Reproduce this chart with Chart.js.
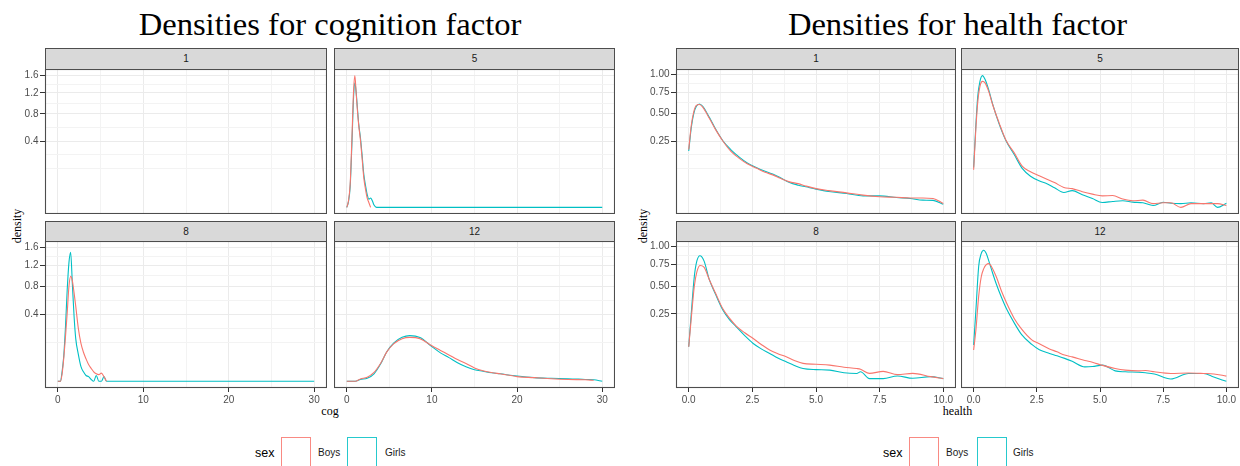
<!DOCTYPE html>
<html><head><meta charset="utf-8">
<script src="https://cdn.jsdelivr.net/npm/chart.js@4.4.1/dist/chart.umd.min.js"></script>
<style>
html,body{margin:0;padding:0;background:#fff}
body{width:1240px;height:466px;position:relative;overflow:hidden;font-family:"Liberation Sans",Arial,sans-serif}
.abs{position:absolute}
.title{font-family:"Liberation Serif","Times New Roman",serif;font-size:32.6px;line-height:32.6px;color:#000;text-align:center;white-space:nowrap;width:640px}
.strip{background:#D9D9D9;border:1px solid #4d4d4d;box-sizing:border-box;text-align:center;font-size:10px;color:#1A1A1A}
.axt{font-family:"Liberation Serif","Times New Roman",serif;font-size:12px;line-height:12px;color:#000;white-space:nowrap;text-align:center;width:80px}
.sex{font-size:12.5px;line-height:14px;color:#000}
.lab{font-size:10px;line-height:12px;color:#1a1a1a}
canvas{position:absolute}
</style>
</head><body>
<script>
// ---------------- data ----------------
const ages = ['1', '5', '8', '12'];
const sexes = ['Boys', 'Girls'];
const sexColors = ['#F8766D', '#00BFC4'];

const cogXBreaks = [0, 10, 20, 30];
const cogXLabels = ['0', '10', '20', '30'];
const cogYBreaks = [0.4, 0.8, 1.2, 1.6];
const cogYLabels = ['0.4', '0.8', '1.2', '1.6'];
const cogRange = [0, 30];

const healthXBreaks = [0, 2.5, 5, 7.5, 10];
const healthXLabels = ['0.0', '2.5', '5.0', '7.5', '10.0'];
const healthYBreaks = [0.25, 0.5, 0.75, 1.0];
const healthYLabels = ['0.25', '0.50', '0.75', '1.00'];
const healthRange = [0, 10];

// cognition, age 1: no observations
const cogX1 = [];
const cogBoys1 = [];
const cogGirls1 = [];

// cognition, age 5 (null = outside the group's data range)
const cogX5 = [0, 0.2, 0.4, 0.6, 0.8, 0.95, 1.1, 1.25, 1.4, 1.6, 1.8, 2.0, 2.2, 2.4, 2.6, 2.8, 3.0, 3.2, 3.5, 5, 10, 15, 20, 25, 30];
const cogBoys5 = [0, 0.004, 0.05, 0.42, 1.25, 1.59, 1.2, 0.86, 0.62, 0.42, 0.22, 0.08, 0.03, 0.008, 0.002, 0, null, null, null, null, null, null, null, null, null];
const cogGirls5 = [0, 0.003, 0.04, 0.36, 1.12, 1.42, 1.22, 0.9, 0.64, 0.45, 0.25, 0.1, 0.045, 0.015, 0.006, 0.008, 0.004, 0.0005, 0, 0, 0, 0, 0, 0, 0];

// cognition, age 8
const cogX8 = [0, 0.3, 0.5, 0.7, 0.9, 1.1, 1.3, 1.5, 1.7, 1.9, 2.1, 2.4, 2.7, 3.0, 3.3, 3.6, 3.9, 4.2, 4.5, 4.8, 5.1, 5.4, 5.7, 6, 10, 20, 30];
const cogBoys8 = [0, 0, 0.005, 0.05, 0.18, 0.42, 0.8, 0.98, 0.9, 0.7, 0.5, 0.25, 0.13, 0.075, 0.045, 0.025, 0.015, 0.008, 0.005, 0.004, 0.006, 0.002, 0, null, null, null, null];
const cogGirls8 = [0, 0, 0.008, 0.06, 0.27, 0.75, 1.25, 1.48, 0.85, 0.38, 0.16, 0.065, 0.02, 0.008, 0.003, 0.002, 0.0003, 0, 0.003, 0, 0, 0.002, 0, 0, 0, 0, 0];

// cognition, age 12
const cogX12 = [0, 1, 1.6, 2.4, 3.2, 4, 4.7, 5.5, 6.5, 7.4, 8.6, 10, 11, 12, 13, 14, 15, 16, 17, 18, 20, 22, 24, 26, 28, 29, 30];
const cogBoys12 = [0, 0, 0.0005, 0.0015, 0.007, 0.03, 0.077, 0.125, 0.162, 0.172, 0.162, 0.112, 0.085, 0.062, 0.042, 0.028, 0.016, 0.01, 0.007, 0.005, 0.002, 0.0012, 0.0006, 0.0003, 0.0002, 0.0001, null];
const cogGirls12 = [0, 0, 0.0003, 0.0008, 0.005, 0.028, 0.078, 0.13, 0.172, 0.186, 0.17, 0.107, 0.072, 0.05, 0.031, 0.019, 0.012, 0.009, 0.0065, 0.005, 0.0025, 0.0012, 0.0008, 0.0006, 0.0003, 0.0002, 0];

// health, age 1
const healthX1 = [0, 0.1, 0.2, 0.3, 0.42, 0.55, 0.81, 1.05, 1.34, 1.65, 2.0, 2.3, 2.65, 3.0, 3.3, 3.6, 3.96, 4.3, 4.6, 5.0, 5.5, 6.2, 6.85, 7.5, 8.16, 8.7, 9.2, 9.6, 10];
const healthBoys1 = [0.19, 0.38, 0.52, 0.59, 0.6, 0.57, 0.45, 0.345, 0.25, 0.18, 0.135, 0.108, 0.088, 0.07, 0.06, 0.048, 0.037, 0.032, 0.026, 0.02, 0.016, 0.012, 0.0085, 0.0065, 0.0058, 0.005, 0.005, 0.0045, 0.0009];
const healthGirls1 = [0.18, 0.36, 0.5, 0.58, 0.607, 0.58, 0.46, 0.35, 0.252, 0.19, 0.142, 0.112, 0.09, 0.074, 0.063, 0.05, 0.035, 0.028, 0.024, 0.019, 0.0144, 0.011, 0.0076, 0.0076, 0.0056, 0.0045, 0.003, 0.0028, 0.0006];

// health, age 5
const healthX5 = [0, 0.09, 0.16, 0.25, 0.35, 0.45, 0.6, 0.75, 1.0, 1.28, 1.6, 1.93, 2.25, 2.59, 2.9, 3.2, 3.57, 3.9, 4.3, 4.7, 5.09, 5.5, 5.9, 6.3, 6.7, 7.1, 7.5, 7.8, 8.2, 8.6, 9.1, 9.4, 9.65, 10];
const healthBoys5 = [0.08, 0.36, 0.62, 0.83, 0.9, 0.88, 0.76, 0.6, 0.41, 0.255, 0.17, 0.095, 0.072, 0.057, 0.045, 0.035, 0.0225, 0.02, 0.014, 0.01, 0.0076, 0.008, 0.004, 0.0025, 0.003, 0.0008, 0.0012, 0.0012, 0, 0.0008, 0.0008, 0.0008, 0.0008, 0.0002];
const healthGirls5 = [0.09, 0.39, 0.69, 0.9, 0.985, 0.93, 0.78, 0.607, 0.4, 0.252, 0.16, 0.085, 0.055, 0.04, 0.032, 0.022, 0.0126, 0.016, 0.009, 0.0045, 0.0014, 0.002, 0.0025, 0.0016, 0.0012, 0.0002, 0.0015, 0.001, 0.0008, 0.0012, 0.0008, 0.0012, 0, 0.001];

// health, age 8
const healthX8 = [0, 0.09, 0.22, 0.32, 0.44, 0.6, 0.81, 1.05, 1.34, 1.6, 1.86, 2.2, 2.52, 2.85, 3.18, 3.5, 3.83, 4.15, 4.49, 5.0, 5.54, 6.1, 6.6, 6.75, 7.1, 7.64, 8.2, 8.8, 9.5, 10];
const healthBoys8 = [0.066, 0.2, 0.5, 0.66, 0.74, 0.72, 0.57, 0.43, 0.29, 0.22, 0.17, 0.13, 0.102, 0.075, 0.054, 0.042, 0.033, 0.024, 0.0177, 0.016, 0.0144, 0.011, 0.009, 0.008, 0.0035, 0.0055, 0.0025, 0.0035, 0.0012, 0.0004];
const healthGirls8 = [0.066, 0.23, 0.607, 0.8, 0.87, 0.8, 0.57, 0.42, 0.28, 0.21, 0.165, 0.115, 0.08, 0.058, 0.043, 0.03, 0.021, 0.014, 0.009, 0.0075, 0.0069, 0.004, 0.0034, 0.005, 0.0004, 0.0004, 0.0016, 0.0005, 0.0012, 0.0004];

// health, age 12
const healthX12 = [0, 0.09, 0.2, 0.3, 0.4, 0.5, 0.6, 0.75, 0.9, 1.1, 1.3, 1.6, 1.9, 2.3, 2.6, 3.0, 3.3, 3.6, 3.9, 4.4, 4.7, 5.1, 5.6, 6.0, 6.5, 6.8, 7.15, 7.8, 8.5, 9.1, 9.5, 10];
const healthBoys12 = [0.054, 0.145, 0.4, 0.6, 0.7, 0.75, 0.764, 0.7, 0.6, 0.45, 0.34, 0.22, 0.15, 0.095, 0.078, 0.058, 0.048, 0.038, 0.033, 0.024, 0.02, 0.014, 0.009, 0.0069, 0.006, 0.0065, 0.005, 0.0034, 0.0038, 0.0034, 0.003, 0.0015];
const healthGirls12 = [0.073, 0.28, 0.73, 0.9, 0.947, 0.9, 0.8, 0.647, 0.52, 0.39, 0.29, 0.19, 0.12, 0.075, 0.055, 0.043, 0.036, 0.029, 0.022, 0.0115, 0.012, 0.0144, 0.006, 0.005, 0.0045, 0.004, 0.003, 0.0003, 0.0034, 0.0034, 0.001, 0];

// ---------------- layout (positions only) ----------------
const rowsGeo = [{strip: 48, top: 69, bottom: 214}, {strip: 221, top: 241, bottom: 388}];
const figures = [
  {title: 'Densities for cognition factor', xTitle: 'cog', cols: [[45, 327], [334, 615]], yW: 45,
   xs: [cogX1, cogX5, cogX8, cogX12], boys: [cogBoys1, cogBoys5, cogBoys8, cogBoys12], girls: [cogGirls1, cogGirls5, cogGirls8, cogGirls12],
   xB: cogXBreaks, xL: cogXLabels, yB: cogYBreaks, yL: cogYLabels, range: cogRange,
   titleY: 8, densX: 16.5, legend: {sex: 255, k1: 280, b: 318, k2: 346, g: 385}},
  {title: 'Densities for health factor', xTitle: 'health', cols: [[676, 956], [961, 1239]], yW: 46,
   xs: [healthX1, healthX5, healthX8, healthX12], boys: [healthBoys1, healthBoys5, healthBoys8, healthBoys12], girls: [healthGirls1, healthGirls5, healthGirls8, healthGirls12],
   xB: healthXBreaks, xL: healthXLabels, yB: healthYBreaks, yL: healthYLabels, range: healthRange,
   titleY: 8, densX: 643, legend: {sex: 883, k1: 908, b: 946, k2: 976, g: 1013}}
];
const X_AXIS_H = 26;

function minorBreaks(b, lim) {
  const bd = b[1] - b[0];
  const bb = b.slice();
  if (lim[0] < bb[0]) bb.unshift(bb[0] - bd);
  if (lim[1] > bb[bb.length - 1]) bb.push(bb[bb.length - 1] + bd);
  const out = [];
  for (let i = 0; i < bb.length - 1; i++) out.push(bb[i], (bb[i] + bb[i + 1]) / 2);
  out.push(bb[bb.length - 1]);
  return out.filter(v => v >= lim[0] && v <= lim[1] && !b.some(m => Math.abs(m - v) < 1e-9));
}
function buildTicks(majors, labels, lim, tf) {
  const b = majors.map(tf);
  const out = [];
  b.forEach((v, i) => { if (v >= lim[0] && v <= lim[1]) out.push({value: v, lbl: labels[i], minor: false}); });
  minorBreaks(b, lim).forEach(v => out.push({value: v, lbl: '', minor: true}));
  out.sort((a, c) => a.value - c.value);
  return out;
}
function axisOpts(axis, ticks, lim, show, size) {
  return {
    type: 'linear', position: axis === 'x' ? 'bottom' : 'left', min: lim[0], max: lim[1],
    afterBuildTicks: s => { s.ticks = ticks.map(t => Object.assign({}, t)); },
    afterFit: s => {
      if (axis === 'x') s.height = size; else s.width = size;
      s.paddingLeft = 0; s.paddingRight = 0; s.paddingTop = 0; s.paddingBottom = 0;
    },
    grid: {
      color: c => (c.tick && c.tick.minor) ? '#F3F3F3' : '#EBEBEB',
      lineWidth: 1, drawTicks: show, tickLength: axis === 'x' ? 4 : 5, tickWidth: 1,
      tickColor: c => (c.tick && c.tick.minor) ? 'rgba(0,0,0,0)' : '#333333'
    },
    border: {display: false},
    ticks: {display: show, autoSkip: false, maxRotation: 0, minRotation: 0,
      padding: axis === 'x' ? 2 : 1.5, color: '#4D4D4D',
      font: {family: '"Liberation Sans", Arial, sans-serif', size: 10},
      callback: (v, i, t) => (t[i] && t[i].lbl !== undefined) ? t[i].lbl : ''}
  };
}
const borderPlugin = {
  id: 'panelBorder',
  afterDraw(chart) {
    const a = chart.chartArea, ctx = chart.ctx;
    ctx.save();
    ctx.strokeStyle = '#4d4d4d'; ctx.lineWidth = 1.1;
    ctx.strokeRect(a.left + 0.5, a.top + 0.5, a.right - a.left - 1, a.bottom - a.top - 1);
    ctx.restore();
  }
};

function el(tag, cls, styles, text) {
  const e = document.createElement(tag);
  if (cls) e.className = cls;
  Object.assign(e.style, styles);
  if (text !== undefined) e.textContent = text;
  document.body.appendChild(e);
  return e;
}

figures.forEach(fig => {
  // y limits from data (sqrt space, expanded 5%)
  let maxD = 0;
  [...fig.boys, ...fig.girls].forEach(a => a.forEach(v => { if (v !== null && v > maxD) maxD = v; }));
  const M = Math.sqrt(maxD);
  const yLim = [-0.05 * M, 1.05 * M];
  const span = fig.range[1] - fig.range[0];
  const xLim = [fig.range[0] - 0.05 * span, fig.range[1] + 0.05 * span];
  const yTicks = buildTicks(fig.yB, fig.yL, yLim, Math.sqrt);
  const xTicks = buildTicks(fig.xB, fig.xL, xLim, v => v);

  const cL = fig.cols[0][0], cR = fig.cols[1][1];
  const cx = (cL + cR) / 2;
  el('div', 'abs title', {left: (cx - 320) + 'px', top: fig.titleY + 'px'}, fig.title);
  el('div', 'abs axt', {left: (cx - 40) + 'px', top: '405px'}, fig.xTitle);
  el('div', 'abs axt', {left: (fig.densX - 40) + 'px', top: (226 - 6) + 'px', transform: 'rotate(-90deg)'}, 'density');

  ages.forEach((age, k) => {
    const r = Math.floor(k / 2), c = k % 2;
    const g = rowsGeo[r], col = fig.cols[c];
    const yW = c === 0 ? fig.yW : 0;
    const xH = r === 1 ? X_AXIS_H : 0;
    const pw = col[1] - col[0], ph = g.bottom - g.top;
    el('div', 'abs strip', {left: col[0] + 'px', top: g.strip + 'px', width: pw + 'px',
      height: (g.top - g.strip + 1) + 'px', lineHeight: (g.top - g.strip - 1) + 'px'}, age);
    const cv = document.createElement('canvas');
    cv.width = pw + yW; cv.height = ph + xH;
    cv.style.left = (col[0] - yW) + 'px'; cv.style.top = g.top + 'px';
    cv.style.width = cv.width + 'px'; cv.style.height = cv.height + 'px';
    document.body.appendChild(cv);
    const xs = fig.xs[k];
    const datasets = xs.length ? [fig.boys[k], fig.girls[k]].map((ys, si) => ({
      label: sexes[si],
      data: xs.map((x, i) => ({x: x, y: ys[i] === null ? null : Math.sqrt(ys[i])})),
      borderColor: sexColors[si], borderWidth: 1.1, pointRadius: 0, fill: false,
      spanGaps: false, cubicInterpolationMode: 'monotone'
    })) : [];
    new Chart(cv, {
      type: 'line',
      data: {datasets},
      options: {
        responsive: false, animation: false, devicePixelRatio: 1,
        layout: {padding: 0},
        plugins: {legend: {display: false}, tooltip: {enabled: false}, title: {display: false}},
        scales: {
          x: axisOpts('x', xTicks, xLim, r === 1, xH),
          y: axisOpts('y', yTicks, yLim, c === 0, yW)
        }
      },
      plugins: [borderPlugin]
    });
  });

  // legend: keys drawn as outlined boxes
  const L = fig.legend;
  el('div', 'abs sex', {left: L.sex + 'px', top: '446px'}, 'sex');
  sexes.forEach((s, si) => {
    const key = document.createElement('canvas');
    key.width = 32; key.height = 30;
    key.style.left = (si ? L.k2 : L.k1) + 'px'; key.style.top = '436px';
    key.style.width = '32px'; key.style.height = '30px';
    document.body.appendChild(key);
    const kc = key.getContext('2d');
    kc.strokeStyle = sexColors[si]; kc.lineWidth = 1; kc.globalAlpha = 0.85;
    kc.strokeRect(1.5, 1.5, 29, 40);
    el('div', 'abs lab', {left: (si ? L.g : L.b) + 'px', top: '447px'}, s);
  });
});
</script>
</body></html>
